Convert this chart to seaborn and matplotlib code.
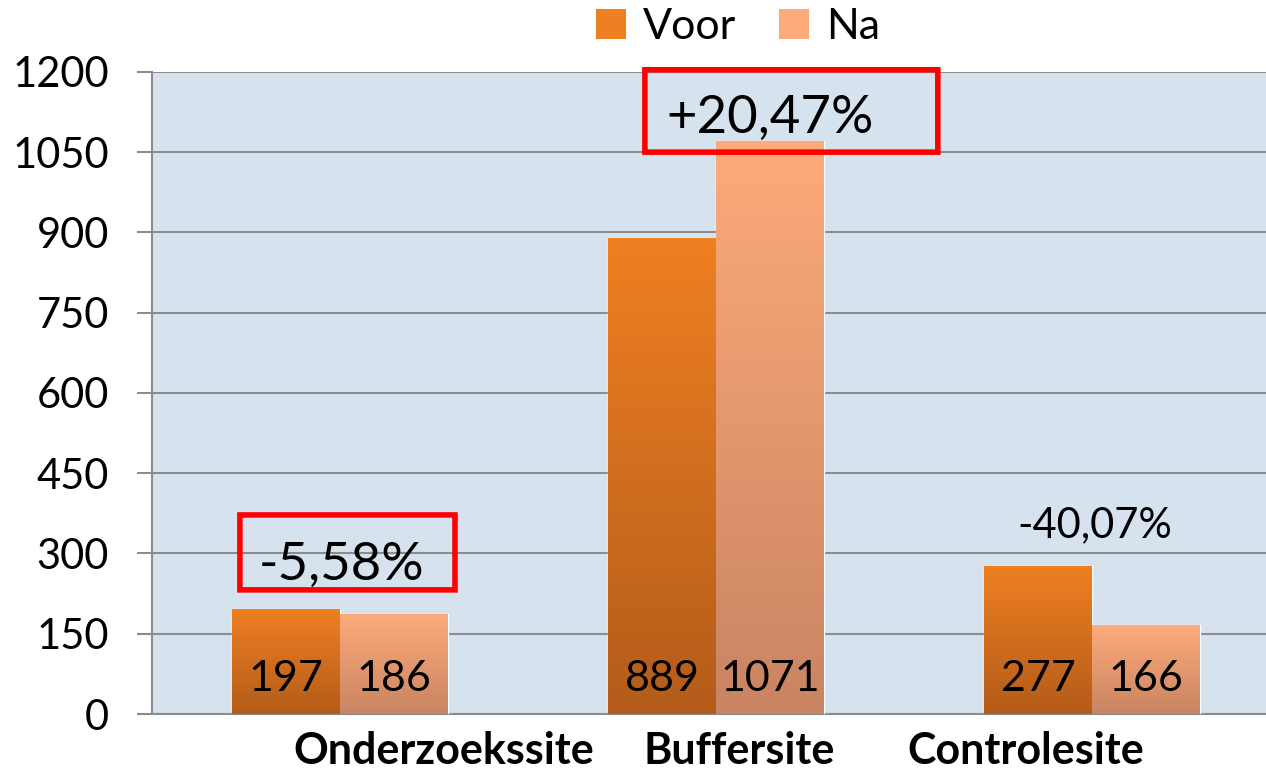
import numpy as np
import pandas as pd
import matplotlib.pyplot as plt
import matplotlib.colors as mcolors
from matplotlib.patches import FancyBboxPatch, Patch
import seaborn as sns

sites = ['Onderzoekssite', 'Buffersite', 'Controlesite']
periods = ['Voor', 'Na']
voor = [197, 889, 277]
na = [186, 1071, 166]
changes = ['-5,58%', '+20,47%', '-40,07%']
boxed = [True, True, False]
yticks = [0, 150, 300, 450, 600, 750, 900, 1050, 1200]

df = pd.DataFrame({
    'site': sites * 2,
    'period': ['Voor'] * 3 + ['Na'] * 3,
    'value': voor + na,
})

top_cols = {'Voor': '#EF8022', 'Na': '#FDAB7A'}
bot_cols = {'Voor': '#B35C1A', 'Na': '#C98462'}

sns.set_style('white')
plt.rcParams['font.family'] = ['Lato', 'DejaVu Sans']
plt.rcParams['text.color'] = 'black'
plt.rcParams['ytick.labelcolor'] = 'black'

fig = plt.figure(figsize=(12.66, 7.69), dpi=100)
ax = fig.add_axes([0.120, 0.0715, 0.880, 0.835])
ax.set_facecolor('#D6E2EE')

sns.barplot(data=df, x='site', y='value', hue='period', hue_order=periods,
            order=sites, palette=top_cols, width=0.574, ax=ax,
            legend=False, zorder=3)

ax.set_yticks(yticks)
ax.set_yticklabels([str(t) for t in yticks], fontsize=30, color='black')
ax.yaxis.grid(True, color='#8C8C8C', linewidth=1.5, zorder=0)
ax.set_axisbelow(True)
ax.tick_params(axis='y', length=11, width=1.5, color='#8C8C8C', pad=20,
               left=True)
ax.tick_params(axis='x', length=0, labelbottom=False)
for s in ['top', 'right']:
    ax.spines[s].set_visible(False)
ax.spines['left'].set_color('#8C8C8C')
ax.spines['left'].set_linewidth(1.5)
ax.spines['bottom'].set_color('#8C8C8C')
ax.spines['bottom'].set_linewidth(1.5)
ax.set_xlabel('')
ax.set_ylabel('')

# gradient fill for each bar
for period, cont in zip(periods, ax.containers):
    cmap = mcolors.LinearSegmentedColormap.from_list(
        period, [bot_cols[period], top_cols[period]])
    grad = np.linspace(0, 1, 256).reshape(-1, 1)
    for bar in cont:
        x0, y0 = bar.get_x(), bar.get_y()
        w, h = bar.get_width(), bar.get_height()
        im = ax.imshow(grad, cmap=cmap, origin='lower', aspect='auto',
                       extent=[x0, x0 + w, y0, y0 + h], zorder=4)
        im.set_clip_path(bar)
        ax.text(x0 + w / 2, 66, f'{int(round(h))}', ha='center',
                va='center', fontsize=31, color='black', zorder=6)

ax.set_xlim(-0.5, 2.5 - 14 / 376)
ax.set_ylim(0, 1200)

# change annotations
label_pos = [(0.005, 278), (1.144, 1114), (2.008, 353)]
box_pos = [(-0.266, 232, 0.572, 140), (0.811, 1050, 0.779, 154)]
for i, (txt, (x, y)) in enumerate(zip(changes, label_pos)):
    fs = 38 if boxed[i] else 30
    ax.text(x, y, txt, ha='center', va='center', fontsize=fs, zorder=7,
            color='black', clip_on=False)
for (bx, by, bw, bh) in box_pos:
    ax.add_patch(FancyBboxPatch((bx, by), bw, bh,
                                boxstyle='round,pad=0,rounding_size=0.01',
                                fill=False, edgecolor='#FF0000',
                                linewidth=4, zorder=8, clip_on=False))

# category labels
cat_x = [0.277, 1.061, 1.824]
for name, x in zip(sites, cat_x):
    ax.text(x, -0.057, name, transform=ax.get_xaxis_transform(),
            ha='center', va='center', fontsize=31, fontweight='bold',
            color='black', clip_on=False)

handles = [Patch(facecolor=top_cols[p], edgecolor='none') for p in periods]
fig.legend(handles, periods, loc='center', bbox_to_anchor=(0.583, 0.965),
           ncol=2, frameon=False, fontsize=31, handlelength=0.7,
           handleheight=0.7, columnspacing=1.0, handletextpad=0.4,
           labelcolor='black')

fig.savefig('out.png', dpi=100)
